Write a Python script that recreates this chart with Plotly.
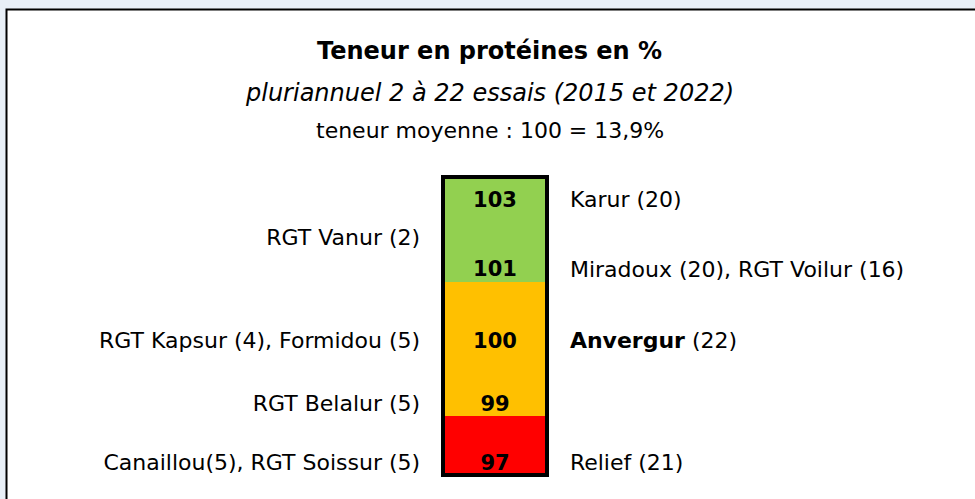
import plotly.graph_objects as go

# ---------------- data ----------------
scores = [103, 101, 100, 99, 97]
right_labels = ["Karur (20)", "Miradoux (20), RGT Voilur (16)", "<b>Anvergur</b> (22)", "", "Relief (21)"]
left_labels = ["", "", "RGT Kapsur (4), Formidou (5)", "RGT Belalur (5)", "Canaillou(5), RGT Soissur (5)"]
extra_left_label = "RGT Vanur (2)"
extra_left_score = 102
band_names = ["vert", "orange", "rouge"]
band_colors = ["#92D050", "#FFC000", "#FF0000"]

title = "<b>Teneur en protéines en %</b>"
subtitle = "<i>pluriannuel 2 à 22 essais (2015 et 2022)</i>"
subtitle2 = "teneur moyenne : 100 = 13,9%"

# ---------------- layout helpers (vertical row positions) ----------------
row_of_score = {103: 0.045, 102: 0.62, 101: 1.095, 100: 2.19, 99: 3.145, 97: 4.045}
band_edges = [-0.335, 1.262, 3.30, 4.198]

FONT = "DejaVu Sans, Verdana, sans-serif"
fig = go.Figure()

# colour bands
for i, (name, col) in enumerate(zip(band_names, band_colors)):
    fig.add_trace(go.Bar(
        x=[0], y=[band_edges[i + 1] - band_edges[i]], base=[band_edges[i]],
        width=1, marker=dict(color=col, line=dict(width=0)),
        name=name, showlegend=False, hoverinfo="skip"))
# outline
fig.add_trace(go.Bar(
    x=[0], y=[band_edges[-1] - band_edges[0]], base=[band_edges[0]],
    width=1, marker=dict(color="rgba(0,0,0,0)", line=dict(width=4, color="black")),
    showlegend=False, hoverinfo="skip"))

ys = [row_of_score[s] for s in scores]
fig.add_trace(go.Scatter(
    x=[0] * len(scores), y=ys, mode="text", text=[f"<b>{s}</b>" for s in scores],
    textfont=dict(family=FONT, size=21, color="black"), textposition="middle center",
    showlegend=False, hoverinfo="skip"))
fig.add_trace(go.Scatter(
    x=[0.72] * len(scores), y=ys, mode="text", text=right_labels,
    textfont=dict(family=FONT, size=22, color="black"), textposition="middle right",
    showlegend=False, hoverinfo="skip"))
fig.add_trace(go.Scatter(
    x=[-0.72] * (len(scores) + 1), y=ys + [row_of_score[extra_left_score]],
    mode="text", text=left_labels + [extra_left_label],
    textfont=dict(family=FONT, size=22, color="black"), textposition="middle left",
    showlegend=False, hoverinfo="skip"))

fig.update_layout(
    width=975, height=499, margin=dict(l=0, r=0, t=0, b=0),
    paper_bgcolor="#E8EFF7", plot_bgcolor="rgba(0,0,0,0)",
    barmode="overlay", bargap=0,
    xaxis=dict(range=[-4.76, 4.615], visible=False, fixedrange=True),
    yaxis=dict(range=[4.563, -3.027], visible=False, fixedrange=True),
    shapes=[dict(type="rect", xref="paper", yref="paper",
                 x0=6.5 / 975, x1=1.05, y0=-0.05, y1=1 - 9.5 / 499,
                 fillcolor="white", line=dict(color="black", width=2), layer="below")],
    annotations=[
        dict(text=title, x=0.5025, y=1 - 51 / 499, xref="paper", yref="paper", showarrow=False,
             font=dict(family=FONT, size=24, color="black"), xanchor="center", yanchor="middle"),
        dict(text=subtitle, x=0.5025, y=1 - 93 / 499, xref="paper", yref="paper", showarrow=False,
             font=dict(family=FONT, size=24, color="black"), xanchor="center", yanchor="middle"),
        dict(text=subtitle2, x=0.5025, y=1 - 131 / 499, xref="paper", yref="paper", showarrow=False,
             font=dict(family=FONT, size=22, color="black"), xanchor="center", yanchor="middle"),
    ],
)
fig.write_html(
    "out.html",
    config={"displayModeBar": False},
    post_script="document.body.style.margin='0';document.body.style.background='#E8EFF7';document.body.style.overflow='hidden';",
)
